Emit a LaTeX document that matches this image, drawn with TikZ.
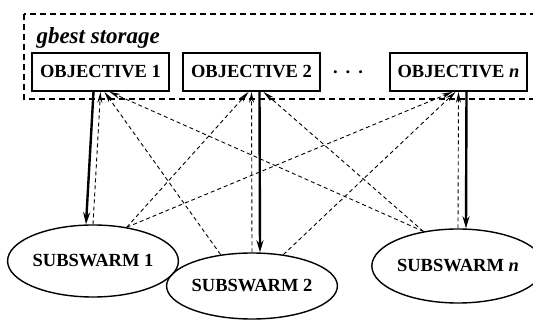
\documentclass[tikz,border=0pt]{standalone}
\usepackage{fontspec}
\setmainfont{Liberation Serif}
\usetikzlibrary{shapes.geometric,arrows.meta}

\tikzset{every node/.style={font=\fontsize{18.5}{20}\selectfont\bfseries}}
\tikzstyle{objbox}=[draw,line width=1.8pt,minimum width=137pt,minimum height=38pt,inner sep=0pt]
\tikzstyle{swarm}=[ellipse,draw,line width=1.4pt,inner sep=0pt]
\tikzstyle{share}=[line width=0.9pt,dash pattern=on 4pt off 3pt,-{Stealth[length=11pt,width=5pt]}]
\tikzstyle{lead}=[line width=2.4pt,-{Stealth[length=12pt,width=7pt]}]

\begin{document}
\begin{tikzpicture}[x=1pt,y=-1pt]
            \clip (0,0) rectangle (533,320);
            \draw [line width=1.4pt,dash pattern=on 6pt off 4pt] (24,14) rectangle (560,99);
            \node [anchor=base west,font=\fontsize{23}{25}\selectfont\bfseries\itshape] (store) at (33,44) {gbest storage};

            \node [objbox] (obj1) at (100.5,72) {OBJECTIVE 1};
            \node [objbox] (obj2) at (251.5,72) {OBJECTIVE 2};
            \node [objbox] (objn) at (458.5,72) {OBJECTIVE \textit{n}};
            \node (dots) at (348,72) {.\hspace{8pt}.\hspace{8pt}.};

            \node [swarm,minimum width=152pt,minimum height=72pt] (ss1) at (93,261) {SUBSWARM 1};
            \node [swarm,minimum width=150pt,minimum height=66pt] (ss2) at (252,286) {SUBSWARM 2};
            \node [swarm,minimum width=148pt,minimum height=74pt] (ssn) at (458,266) {SUBSWARM \textit{n}};

            % each objective hands its best to its own subswarm
            \draw [lead] ([xshift=-7pt]obj1.south) -- ([xshift=-7pt]ss1.north);
            \draw [lead] ([xshift=8pt]obj2.south) -- ([xshift=8pt]ss2.north);
            \draw [lead] ([xshift=8pt]objn.south) -- ([xshift=8pt]ssn.north);

            % every subswarm reports to every objective
            \draw [share] (ss1.north) -- (obj1.south);
            \draw [share] (ss1.45) -- ([xshift=-3pt]obj2.south);
            \draw [share] (ss1.45) -- ([xshift=-6pt]objn.south);
            \draw [share] (ss2.135) -- ([xshift=4pt]obj1.south);
            \draw [share] (ss2.north) -- (obj2.south);
            \draw [share] (ss2.45) -- ([xshift=-3pt]objn.south);
            \draw [share] (ssn.135) -- ([xshift=9pt]obj1.south);
            \draw [share] (ssn.135) -- ([xshift=12pt]obj2.south);
            \draw [share] (ssn.north) -- (objn.south);
        \end{tikzpicture}
\end{document}
